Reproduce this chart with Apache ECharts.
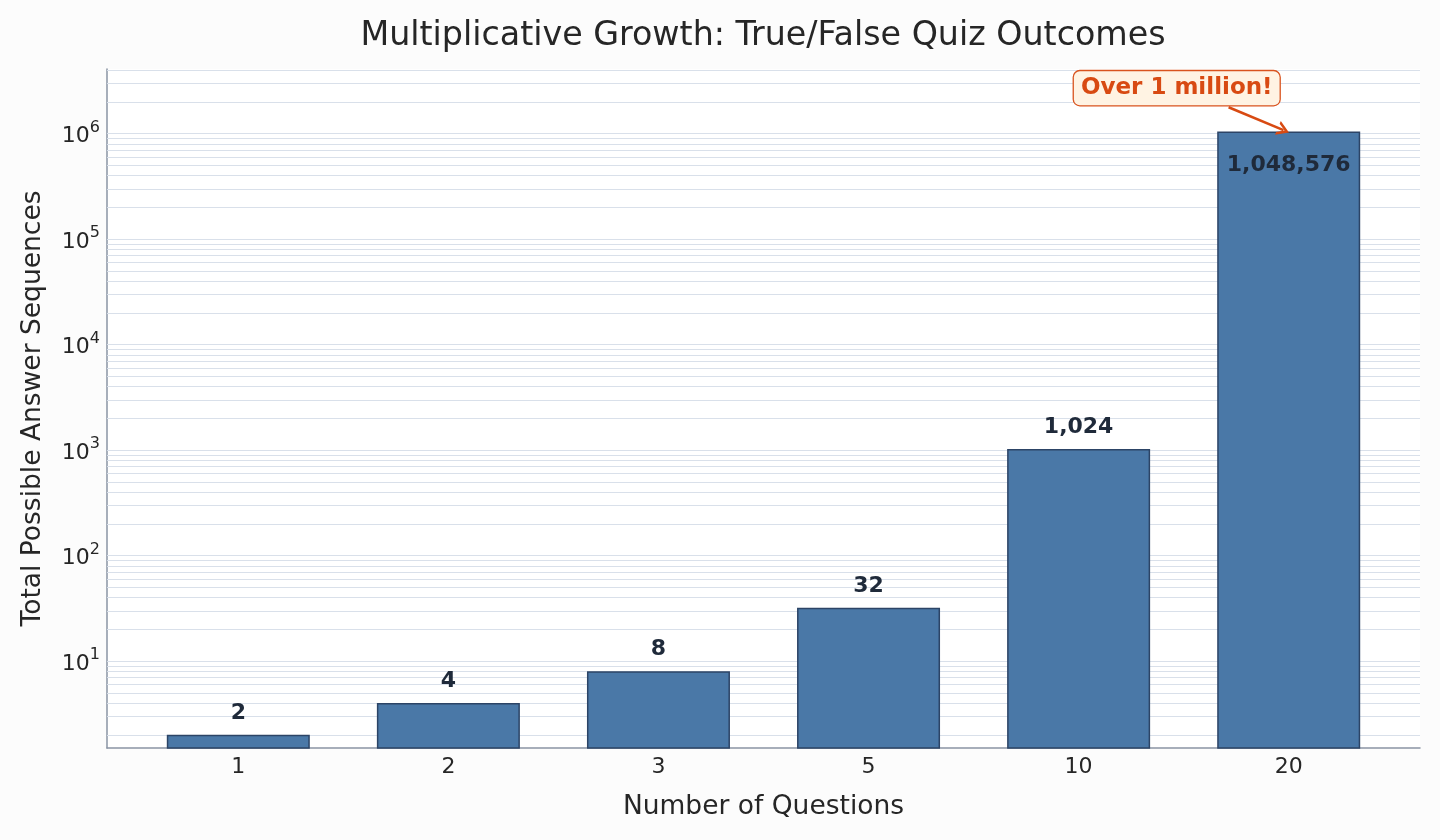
<!DOCTYPE html>
<html>
<head>
<meta charset="utf-8">
<script src="https://cdn.jsdelivr.net/npm/echarts@6/dist/echarts.min.js"></script>
<style>
html,body{margin:0;padding:0;background:#fcfcfc;}
#chart{width:1440px;height:840px;}
</style>
</head>
<body>
<div id="chart"></div>
<script>
const categories = ['1', '2', '3', '5', '10', '20'];
const outcomes = [2, 4, 8, 32, 1024, 1048576];
const yMin = 1.5;
const yMax = 4.1e6;
const annotationText = 'Over 1 million!';
const annotationAnchor = [4.467, 2.7e6];
const arrowFrom = [4.714, 1.78e6];
const arrowTo = [4.975, 1.08e6];

// gridline values at k * 10^e (matplotlib-style log major/minor ticks)
const gridValues = [];
for (let e = 0; e <= 6; e++) {
  for (let k = 1; k <= 9; k++) {
    const v = k * Math.pow(10, e);
    if (v >= yMin && v <= yMax) gridValues.push(v);
  }
}

const FONT = 'DejaVu Sans';

const chart = echarts.init(document.getElementById('chart'), null, {renderer: 'canvas'});

const barData = outcomes.map((v, i) => {
  const item = {value: [i, v]};
  if (i === outcomes.length - 1) {
    item.label = {position: 'insideTop', distance: 23};
  }
  return item;
});

chart.setOption({
  backgroundColor: '#fcfcfc',
  animation: false,
  title: {
    text: 'Multiplicative Growth: True/False Quiz Outcomes',
    left: 758,
    textAlign: 'center',
    top: 15,
    textStyle: {fontFamily: FONT, fontSize: 33.3, fontWeight: 'normal', color: '#262626'}
  },
  grid: {
    left: 107, right: 20, top: 69, bottom: 92,
    show: true, backgroundColor: '#ffffff', borderWidth: 0
  },
  xAxis: {
    type: 'value',
    min: -0.625,
    max: 5.625,
    name: 'Number of Questions',
    nameLocation: 'middle',
    nameGap: 46,
    nameTextStyle: {fontFamily: FONT, fontSize: 26.5, color: '#262626'},
    axisLine: {show: true, onZero: false, lineStyle: {color: '#8a94a4', width: 1.5}},
    axisTick: {show: false},
    splitLine: {show: false},
    axisLabel: {
      customValues: [0, 1, 2, 3, 4, 5],
      formatter: v => categories[Math.round(v)],
      fontFamily: FONT, fontSize: 22, color: '#262626', margin: 8
    }
  },
  yAxis: {
    type: 'log',
    logBase: 10,
    min: yMin,
    max: yMax,
    name: 'Total Possible Answer Sequences',
    nameLocation: 'middle',
    nameGap: 60,
    nameTextStyle: {fontFamily: FONT, fontSize: 26.5, color: '#262626'},
    axisLine: {show: true, onZero: false, lineStyle: {color: '#8a94a4', width: 1.5}},
    axisTick: {show: false},
    splitLine: {show: false},
    axisLabel: {
      fontFamily: FONT, fontSize: 22, color: '#262626', margin: 7,
      showMinLabel: false, showMaxLabel: false,
      formatter: v => {
        const l = Math.log10(v);
        if (Math.abs(l - Math.round(l)) > 1e-6) return '';
        return '{b|10}{s|' + Math.round(l) + '}';
      },
      rich: {
        b: {fontFamily: FONT, fontSize: 22, color: '#262626', verticalAlign: 'bottom'},
        s: {fontFamily: FONT, fontSize: 16, color: '#262626', verticalAlign: 'top', padding: [0, 0, 12, 0]}
      }
    }
  },
  series: [
    {
      type: 'bar',
      z: 3,
      clip: true,
      barWidth: 143,
      data: barData,
      itemStyle: {color: '#4a78a7', borderColor: '#2c4466', borderWidth: 1.5},
      label: {
        show: true,
        position: 'top',
        distance: 11,
        formatter: p => p.value[1].toLocaleString('en-US'),
        fontFamily: FONT, fontSize: 22, fontWeight: 'bold', color: '#1f2a3a'
      },
      markLine: {
        silent: true,
        z: 1,
        symbol: ['none', 'none'],
        label: {show: false},
        lineStyle: {color: '#d9e0ea', width: 1.2, type: 'solid'},
        data: gridValues.map(v => ({yAxis: v}))
      },
      markPoint: {
        silent: true,
        z: 10,
        symbol: 'rect',
        symbolSize: 1,
        itemStyle: {color: 'rgba(0,0,0,0)'},
        label: {
          show: true,
          position: 'inside',
          formatter: annotationText,
          fontFamily: FONT, fontSize: 23, fontWeight: 'bold', color: '#d84a12',
          backgroundColor: '#fff3e3',
          borderColor: '#d9531e',
          borderWidth: 1.3,
          borderRadius: 6,
          padding: [6, 7, 5, 7]
        },
        data: [{coord: annotationAnchor}]
      }
    },
    {
      type: 'line',
      data: [],
      z: 9,
      markLine: {
        silent: true,
        z: 9,
        symbol: ['none', 'path://M0,10 L5,0 L10,10 L8,10 L5,4 L2,10 Z'],
        symbolSize: [15, 12],
        label: {show: false},
        lineStyle: {color: '#d84a12', width: 2.6, type: 'solid'},
        data: [[{coord: arrowFrom}, {coord: arrowTo}]]
      }
    }
  ]
});
</script>
</body>
</html>
